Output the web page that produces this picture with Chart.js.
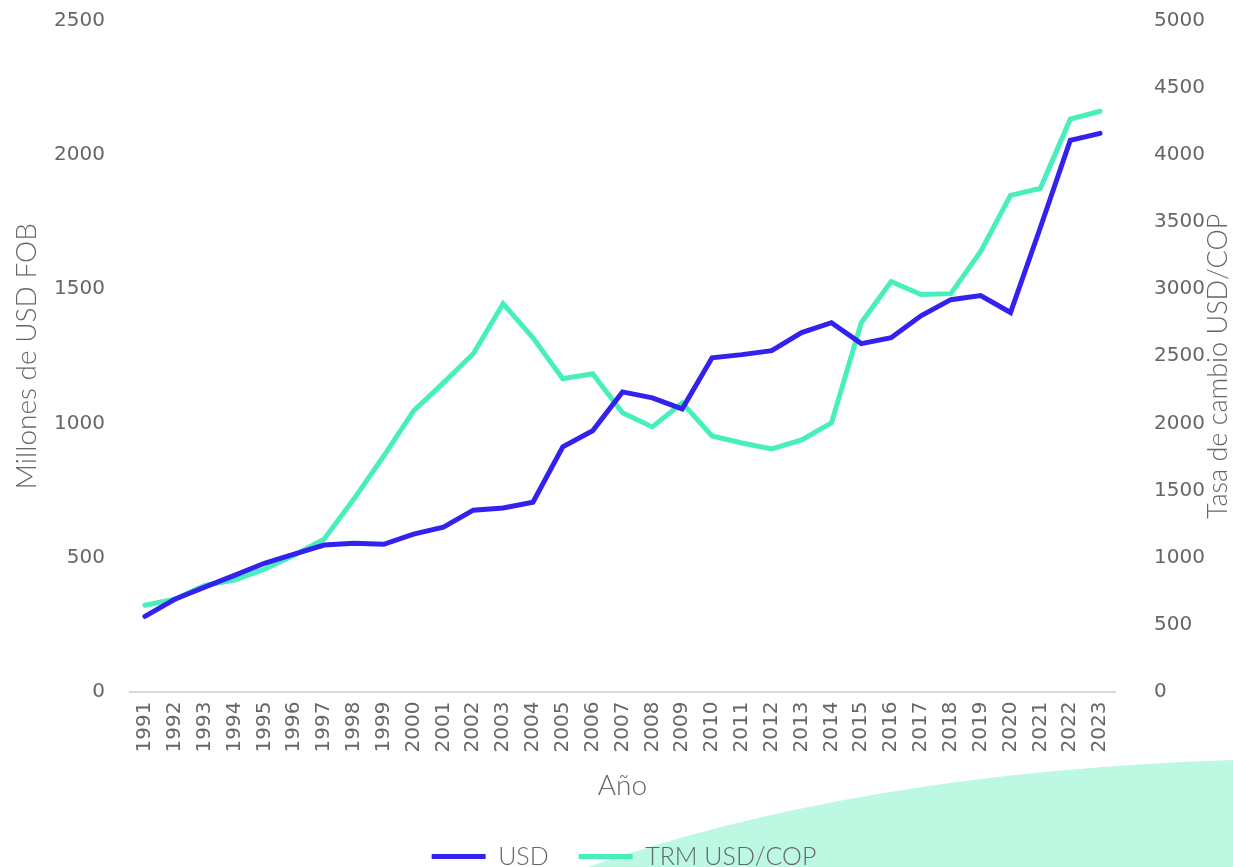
<!DOCTYPE html>
<html>
<head>
<meta charset="utf-8">
<script src="https://cdn.jsdelivr.net/npm/chart.js@4"></script>
<style>
  html, body { margin: 0; padding: 0; background: #fff; }
  #wrap { width: 1233px; height: 867px; position: relative; }
</style>
</head>
<body>
<div id="wrap"><canvas id="myChart"></canvas></div>
<script>
const anios = ['1991','1992','1993','1994','1995','1996','1997','1998','1999','2000','2001','2002','2003','2004','2005','2006','2007','2008','2009','2010','2011','2012','2013','2014','2015','2016','2017','2018','2019','2020','2021','2022','2023']
const usd = [280, 344, 389, 433, 478, 512, 546, 553, 549, 587, 613, 676, 684, 706, 912, 972, 1117, 1095, 1054, 1244, 1256, 1271, 1338, 1375, 1297, 1319, 1401, 1461, 1476, 1413, 1730, 2055, 2081]
const trm = [643, 688, 792, 830, 912, 1016, 1136, 1435, 1756, 2093, 2302, 2519, 2892, 2638, 2332, 2369, 2078, 1973, 2152, 1906, 1853, 1809, 1876, 2003, 2750, 3057, 2960, 2967, 3281, 3700, 3752, 4268, 4327]

const gris = '#666666'
const fuente = 'Lato, "Noto Sans", sans-serif'
const fuenteNum = '"DejaVu Sans", sans-serif'
const tituloDerecho = 'Tasa de cambio USD/COP'

// la mancha verde clara abajo a la derecha
const fondo = {
    id: 'fondo',
    beforeDraw(chart) {
        const c = chart.ctx
        c.save()
        c.fillStyle = '#bcf8e2'
        c.beginPath()
        c.moveTo(588, 867)
        c.quadraticCurveTo(860, 772, 1233, 760)
        c.lineTo(1233, 867)
        c.closePath()
        c.fill()
        c.restore()
    }
}

// titulo del eje derecho, leido de abajo hacia arriba como el izquierdo
const tituloY2 = {
    id: 'tituloY2',
    afterDraw(chart) {
        const c = chart.ctx
        const area = chart.chartArea
        c.save()
        c.translate(1218, (area.top + area.bottom) / 2 + 10)
        c.rotate(-Math.PI / 2)
        c.fillStyle = gris
        c.font = '300 27px ' + fuente
        c.textAlign = 'center'
        c.textBaseline = 'middle'
        c.fillText(tituloDerecho, 0, 0)
        c.restore()
    }
}

const data = {
    labels: anios,
    datasets: [{
        label: 'USD',
        data: usd,
        yAxisID: 'y',
        borderColor: '#3322ee',
        backgroundColor: '#3322ee',
        borderWidth: 5,
        borderCapStyle: 'round',
        pointRadius: 0,
        tension: 0,
        fill: false
    }, {
        label: 'TRM USD/COP',
        data: trm,
        yAxisID: 'y2',
        borderColor: '#47efbc',
        backgroundColor: '#47efbc',
        borderWidth: 5,
        borderCapStyle: 'round',
        pointRadius: 0,
        tension: 0,
        fill: false
    }]
}

const config = {
    type: 'line',
    data: data,
    plugins: [fondo, tituloY2],
    options: {
        responsive: false,
        animation: false,
        layout: { padding: { left: 10, right: -5, top: 21, bottom: -12 } },
        plugins: {
            legend: {
                position: 'bottom',
                labels: {
                    usePointStyle: true,
                    pointStyle: 'line',
                    pointStyleWidth: 54,
                    color: gris,
                    padding: 30,
                    font: { family: fuente, size: 25, weight: 300 }
                }
            },
            tooltip: { enabled: false }
        },
        scales: {
            x: {
                offset: true,
                grid: { display: false, drawTicks: false },
                border: { color: '#d9d9d9', width: 2 },
                ticks: { color: gris, maxRotation: 90, minRotation: 90, autoSkip: false, padding: 10, font: { family: fuenteNum, size: 20 } },
                title: { display: true, text: 'Año', color: gris, padding: { top: 7, bottom: 11 }, font: { family: fuente, size: 28, weight: 300 } }
            },
            y: {
                position: 'left',
                min: 0, max: 2500,
                grid: { display: false, drawTicks: false },
                border: { display: false },
                ticks: { stepSize: 500, color: gris, padding: 25, font: { family: fuenteNum, size: 20 }, callback: (v) => v },
                title: { display: true, text: 'Millones de USD FOB', color: gris, padding: 0, font: { family: fuente, size: 28, weight: 300 } },
                afterFit: (s) => { s.width = 120; s.paddingTop = 0; s.paddingBottom = 0 }
            },
            y2: {
                position: 'right',
                min: 0, max: 5000,
                grid: { display: false, drawTicks: false },
                border: { display: false },
                ticks: { stepSize: 500, color: gris, padding: 39, font: { family: fuenteNum, size: 20 }, callback: (v) => v },
                afterFit: (s) => { s.width = 123; s.paddingTop = 0; s.paddingBottom = 0 }
            }
        }
    }
}

const ctx = document.getElementById('myChart')
ctx.width = 1233
ctx.height = 867
new Chart(ctx, config)
</script>
</body>
</html>
